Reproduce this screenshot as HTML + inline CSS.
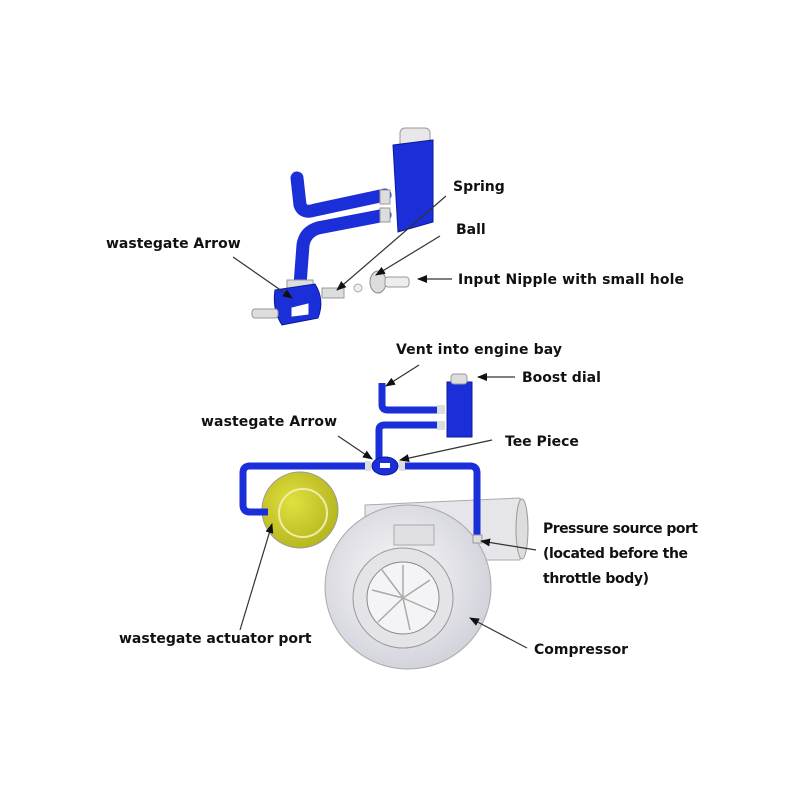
<!DOCTYPE html>
<html><head><meta charset="utf-8"><style>
html,body{margin:0;padding:0;background:#fff;}
svg{display:block}
text{font-family:"DejaVu Sans",sans-serif;font-weight:bold;font-size:14px;fill:#111}
</style></head><body>
<svg width="800" height="800" viewBox="0 0 800 800" xmlns="http://www.w3.org/2000/svg">
<defs>
<marker id="ah" markerWidth="10" markerHeight="8" refX="9" refY="4" orient="auto" markerUnits="userSpaceOnUse">
<path d="M0,0 L10,4 L0,8 z" fill="#111"/></marker>
<radialGradient id="comp" cx="0.45" cy="0.45" r="0.6"><stop offset="0" stop-color="#fafafa"/><stop offset="1" stop-color="#d0d0da"/></radialGradient>
<radialGradient id="yel" cx="0.4" cy="0.4" r="0.6"><stop offset="0" stop-color="#e0e040"/><stop offset="1" stop-color="#b8b820"/></radialGradient>
</defs>

<!-- TOP ASSEMBLY -->
<rect x="400" y="128" width="30" height="20" rx="5" fill="#e8e8e8" stroke="#999"/>
<path d="M393,145 L433,140 L433,222 L398,232 Z" fill="#1a2fd8" stroke="#0a1a9a"/>
<path d="M297,178 L300,205 Q303,214 315,210 L385,195" fill="none" stroke="#1a2fd8" stroke-width="13" stroke-linecap="round"/>
<path d="M385,215 L318,228 Q305,232 303,245 L300,285" fill="none" stroke="#1a2fd8" stroke-width="13" stroke-linecap="round"/>
<rect x="380" y="190" width="10" height="14" fill="#ddd" stroke="#999"/>
<rect x="380" y="208" width="10" height="14" fill="#ddd" stroke="#999"/>
<rect x="287" y="280" width="26" height="8" fill="#ddd" stroke="#999"/>
<path d="M275,290 L315,284 Q325,300 318,318 L282,325 Q272,310 275,290Z" fill="#1a2fd8" stroke="#0a1a9a"/>
<path d="M292,308 L308,304 L308,314 L292,316Z" fill="#fff" stroke="#fff"/>
<rect x="252" y="309" width="26" height="9" fill="#ddd" stroke="#999" rx="3"/>
<rect x="322" y="288" width="22" height="10" fill="#ddd" stroke="#999"/>
<circle cx="358" cy="288" r="4" fill="#eee" stroke="#aaa"/>
<ellipse cx="378" cy="282" rx="8" ry="11" fill="#ddd" stroke="#888"/>
<rect x="385" y="277" width="24" height="10" rx="3" fill="#eee" stroke="#999"/>

<text x="453" y="191">Spring</text>
<text x="456" y="234">Ball</text>
<text x="106" y="248">wastegate Arrow</text>
<text x="458" y="284" textLength="226">Input Nipple with small hole</text>
<line x1="446" y1="196" x2="337" y2="290" stroke="#333" stroke-width="1.2" marker-end="url(#ah)"/>
<line x1="440" y1="236" x2="376" y2="275" stroke="#333" stroke-width="1.2" marker-end="url(#ah)"/>
<line x1="233" y1="257" x2="292" y2="298" stroke="#333" stroke-width="1.2" marker-end="url(#ah)"/>
<line x1="452" y1="279" x2="418" y2="279" stroke="#333" stroke-width="1.2" marker-end="url(#ah)"/>

<!-- BOTTOM -->
<path d="M365,505 L520,498 L520,560 L365,560Z" fill="#e6e6ea" stroke="#aaa"/>
<ellipse cx="522" cy="529" rx="6" ry="30" fill="#ddd" stroke="#999"/>
<circle cx="300" cy="510" r="38" fill="url(#yel)" stroke="#999"/>
<circle cx="303" cy="513" r="24" fill="none" stroke="#eeeeaa" stroke-width="2"/>
<ellipse cx="408" cy="587" rx="83" ry="82" fill="url(#comp)" stroke="#aaa"/>
<circle cx="403" cy="598" r="50" fill="#e4e4e8" stroke="#999"/>
<circle cx="403" cy="598" r="36" fill="#f4f4f6" stroke="#888"/>
<g stroke="#aaa" stroke-width="1.5">
<line x1="403" y1="598" x2="403" y2="565"/><line x1="403" y1="598" x2="430" y2="580"/><line x1="403" y1="598" x2="435" y2="612"/><line x1="403" y1="598" x2="410" y2="630"/><line x1="403" y1="598" x2="378" y2="622"/><line x1="403" y1="598" x2="372" y2="590"/><line x1="403" y1="598" x2="382" y2="570"/>
</g>
<rect x="394" y="525" width="40" height="20" fill="#e0e0e4" stroke="#aaa"/>

<path d="M268,512 L250,512 Q243,512 243,505 L243,473 Q243,466 250,466 L370,466" fill="none" stroke="#1a2fd8" stroke-width="7"/>
<path d="M400,466 L470,466 Q477,466 477,473 L477,537" fill="none" stroke="#1a2fd8" stroke-width="7"/>
<rect x="473" y="535" width="9" height="8" fill="#ddd" stroke="#999"/>
<path d="M379,460 L379,430 Q379,425 385,425 L440,425" fill="none" stroke="#1a2fd8" stroke-width="7"/>
<path d="M382,383 L382,405 Q382,410 388,410 L440,410" fill="none" stroke="#1a2fd8" stroke-width="7"/>
<ellipse cx="385" cy="466" rx="13" ry="9" fill="#1a2fd8" stroke="#0a1a9a"/>
<rect x="380" y="463" width="10" height="5" fill="#fff"/>
<rect x="365" y="461" width="6" height="10" fill="#ddd"/><rect x="399" y="461" width="6" height="10" fill="#ddd"/>
<rect x="447" y="382" width="25" height="55" fill="#1a2fd8" stroke="#0a1a9a"/>
<rect x="451" y="374" width="16" height="10" rx="3" fill="#ddd" stroke="#999"/>
<rect x="437" y="405" width="8" height="9" fill="#ddd"/><rect x="437" y="421" width="8" height="9" fill="#ddd"/>

<text x="396" y="354" textLength="166">Vent into engine bay</text>
<text x="522" y="382">Boost dial</text>
<text x="201" y="426" textLength="136">wastegate Arrow</text>
<text x="505" y="446">Tee Piece</text>
<text x="543" y="533" textLength="155">Pressure source port</text>
<text x="543" y="558" textLength="145">(located before the</text>
<text x="543" y="583" textLength="106">throttle body)</text>
<text x="119" y="643">wastegate actuator port</text>
<text x="534" y="654">Compressor</text>
<line x1="419" y1="365" x2="386" y2="386" stroke="#333" stroke-width="1.2" marker-end="url(#ah)"/>
<line x1="515" y1="377" x2="478" y2="377" stroke="#333" stroke-width="1.2" marker-end="url(#ah)"/>
<line x1="338" y1="436" x2="372" y2="459" stroke="#333" stroke-width="1.2" marker-end="url(#ah)"/>
<line x1="492" y1="440" x2="400" y2="460" stroke="#333" stroke-width="1.2" marker-end="url(#ah)"/>
<line x1="536" y1="550" x2="481" y2="541" stroke="#333" stroke-width="1.2" marker-end="url(#ah)"/>
<line x1="240" y1="630" x2="272" y2="524" stroke="#333" stroke-width="1.2" marker-end="url(#ah)"/>
<line x1="527" y1="648" x2="470" y2="618" stroke="#333" stroke-width="1.2" marker-end="url(#ah)"/>
</svg>
</body></html>
